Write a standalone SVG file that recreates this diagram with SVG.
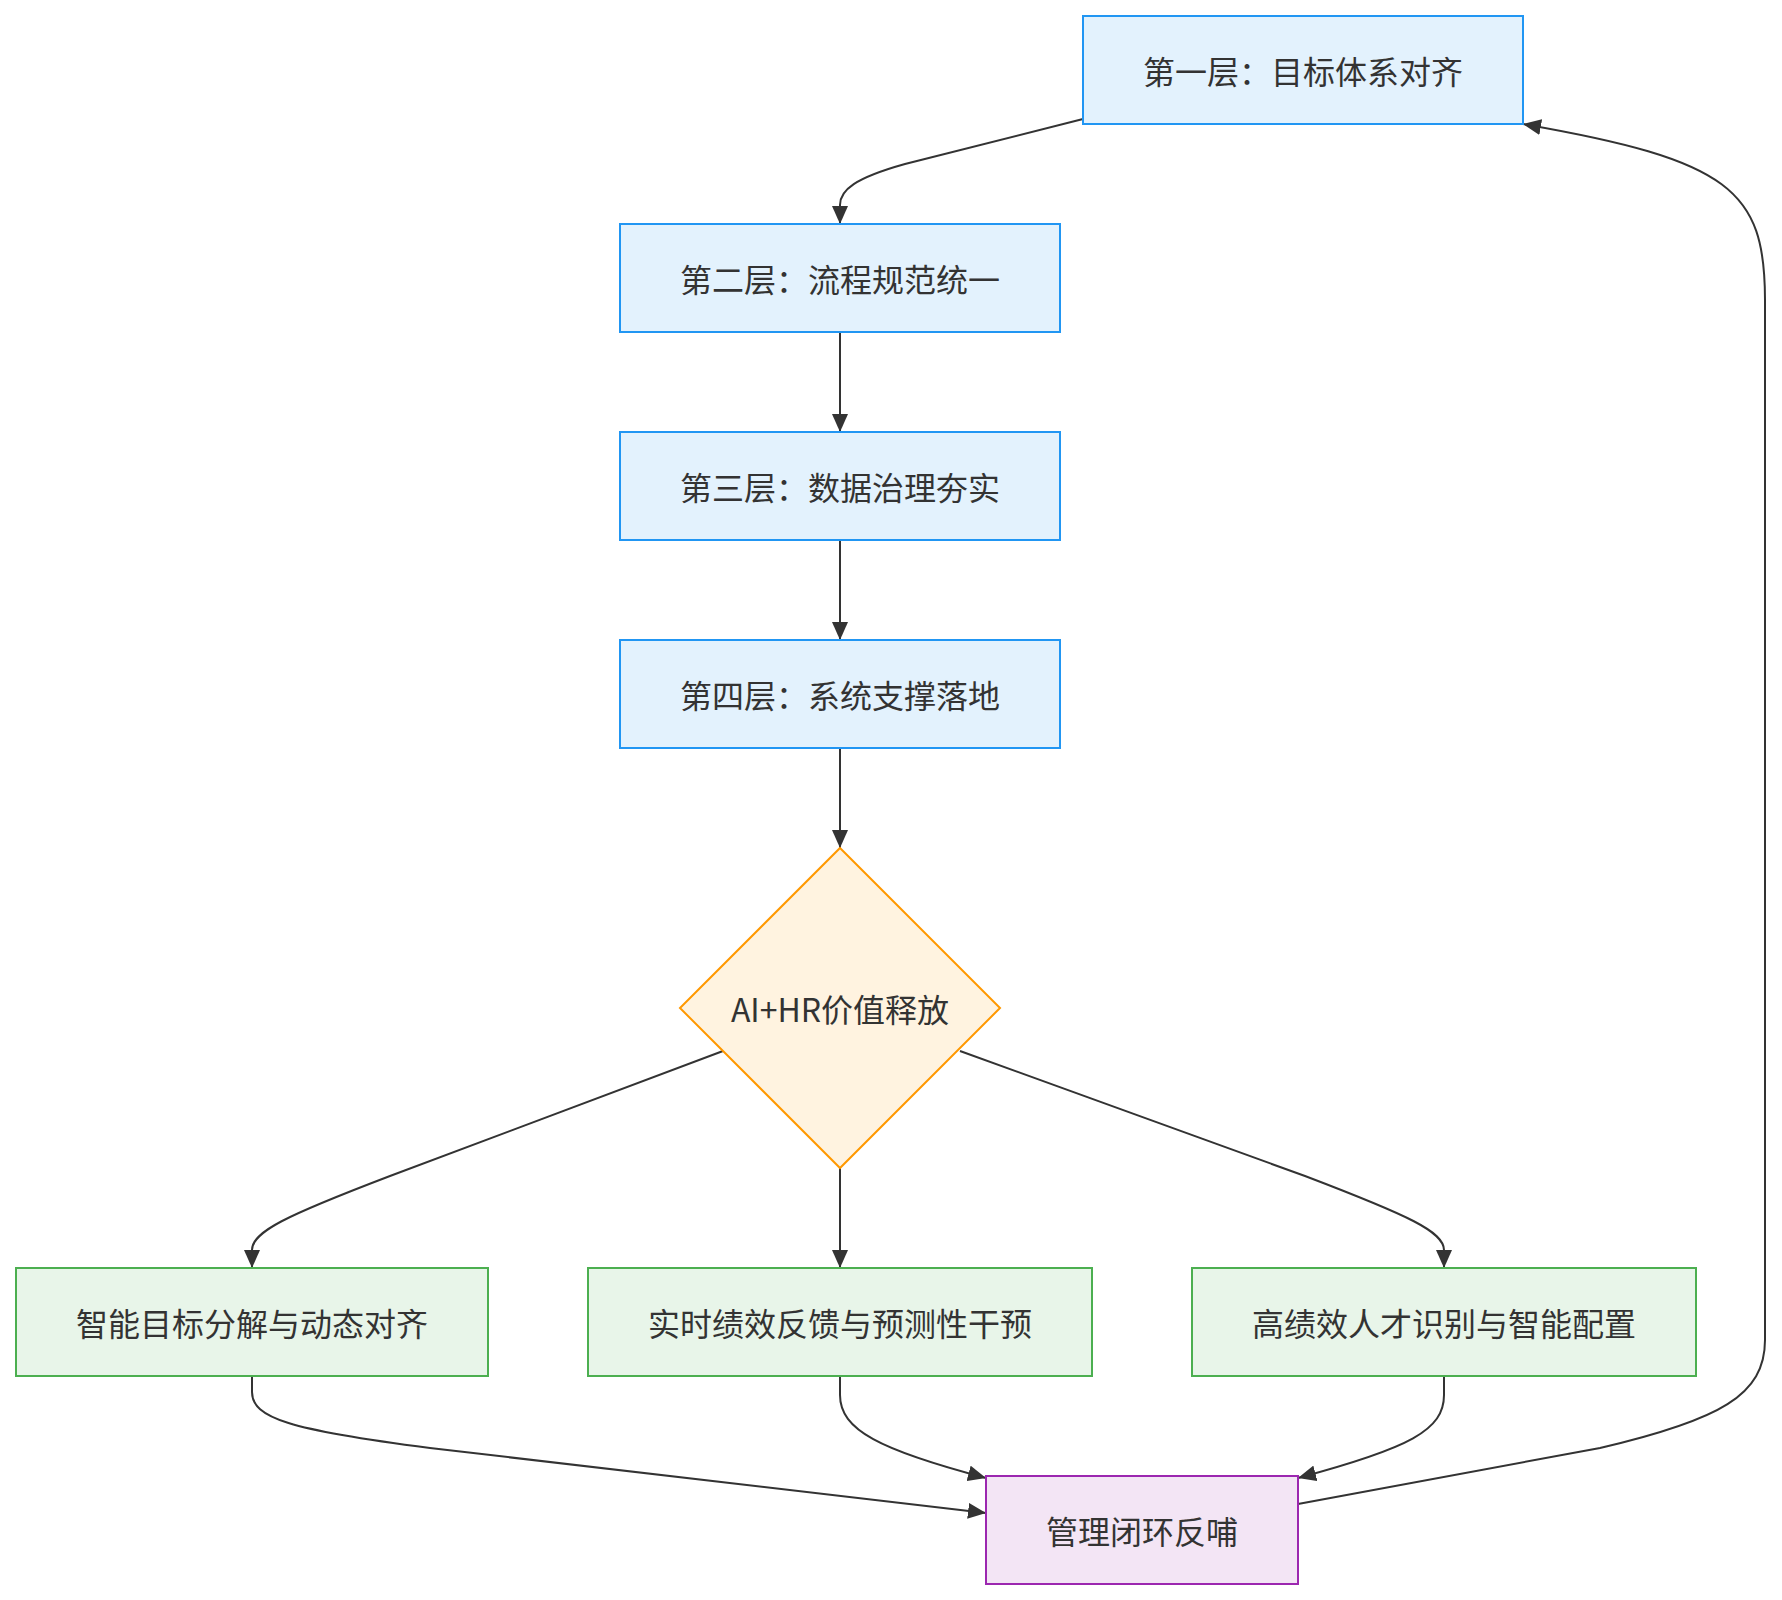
<svg xmlns="http://www.w3.org/2000/svg" width="1782" height="1600" viewBox="0 0 1782 1600">
<style>
  .lbl { font-family: "Noto Sans CJK SC", "Noto Sans", sans-serif; font-size: 32px; fill: #333333; text-anchor: middle; dominant-baseline: central; }
  .blue { fill: #E3F2FD; stroke: #2196F3; stroke-width: 2; }
  .orange { fill: #FFF3E0; stroke: #FF9800; stroke-width: 2; }
  .green { fill: #E8F5E9; stroke: #4CAF50; stroke-width: 2; }
  .purple { fill: #F3E5F5; stroke: #9C27B0; stroke-width: 2; }
  .edge { fill: none; stroke: #333333; stroke-width: 2; marker-end: url(#arrow); }
</style>
<defs>
  <marker id="arrow" viewBox="0 0 10 10" refX="10" refY="5" markerUnits="userSpaceOnUse" markerWidth="18" markerHeight="16" orient="auto" preserveAspectRatio="none">
    <path d="M0,0 L10,5 L0,10 z" fill="#333333"/>
  </marker>
</defs>
<rect width="1782" height="1600" fill="#ffffff"/>
<g id="connectors">
  <path class="edge" d="M1083,119 L905,164 C855,178 840,190 840,205 L840,224"/>
  <path class="edge" d="M840,332 L840,432"/>
  <path class="edge" d="M840,540 L840,640"/>
  <path class="edge" d="M840,748 L840,848"/>
  <path class="edge" d="M723,1051 L390,1176 C285,1216 252,1232 252,1250 L252,1268"/>
  <path class="edge" d="M840,1168 L840,1268"/>
  <path class="edge" d="M960,1051 L1305,1176 C1410,1216 1444,1232 1444,1250 L1444,1268"/>
  <path class="edge" d="M252,1376 L252,1392 C252,1418 290,1430 430,1448 L986,1513"/>
  <path class="edge" d="M840,1376 L840,1395 C840,1430 880,1450 986,1478"/>
  <path class="edge" d="M1444,1376 L1444,1395 C1444,1430 1410,1448 1298,1478"/>
  <path class="edge" d="M1298,1504 L1600,1448 C1720,1420 1765,1395 1765,1340 L1765,300 C1765,190 1730,160 1523,124"/>
</g>
<g id="n1"><rect class="blue" x="1083" y="16" width="440" height="108"/><text class="lbl" x="1303" y="70">第一层：目标体系对齐</text></g>
<g id="n2"><rect class="blue" x="620" y="224" width="440" height="108"/><text class="lbl" x="840" y="278">第二层：流程规范统一</text></g>
<g id="n3"><rect class="blue" x="620" y="432" width="440" height="108"/><text class="lbl" x="840" y="486">第三层：数据治理夯实</text></g>
<g id="n4"><rect class="blue" x="620" y="640" width="440" height="108"/><text class="lbl" x="840" y="694">第四层：系统支撑落地</text></g>
<g id="d1"><polygon class="orange" points="840,848 1000,1008 840,1168 680,1008"/><text class="lbl" x="840" y="1008">AI+HR价值释放</text></g>
<g id="g1"><rect class="green" x="16" y="1268" width="472" height="108"/><text class="lbl" x="252" y="1322">智能目标分解与动态对齐</text></g>
<g id="g2"><rect class="green" x="588" y="1268" width="504" height="108"/><text class="lbl" x="840" y="1322">实时绩效反馈与预测性干预</text></g>
<g id="g3"><rect class="green" x="1192" y="1268" width="504" height="108"/><text class="lbl" x="1444" y="1322">高绩效人才识别与智能配置</text></g>
<g id="p1"><rect class="purple" x="986" y="1476" width="312" height="108"/><text class="lbl" x="1142" y="1530">管理闭环反哺</text></g>
</svg>
